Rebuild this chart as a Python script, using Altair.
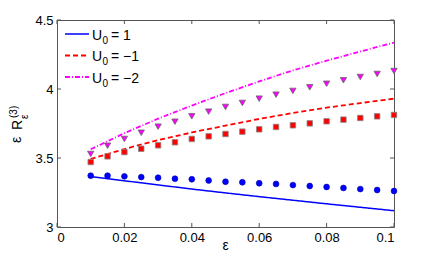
import altair as alt
import pandas as pd

# ---- data ----
eps_pts = [0.01, 0.015, 0.02, 0.025, 0.03, 0.035, 0.04, 0.045, 0.05, 0.055,
           0.06, 0.065, 0.07, 0.075, 0.08, 0.085, 0.09, 0.095, 0.1]
pts_u1 = [3.372, 3.372, 3.367, 3.362, 3.357, 3.350, 3.346, 3.337, 3.328, 3.324,
          3.317, 3.312, 3.304, 3.297, 3.290, 3.283, 3.275, 3.268, 3.261]
pts_um1 = [3.471, 3.512, 3.543, 3.567, 3.592, 3.614, 3.638, 3.657, 3.674, 3.691,
           3.708, 3.725, 3.737, 3.751, 3.766, 3.778, 3.790, 3.802, 3.812]
pts_um2 = [3.529, 3.589, 3.638, 3.683, 3.727, 3.763, 3.802, 3.836, 3.870, 3.899,
           3.930, 3.959, 3.986, 4.012, 4.038, 4.063, 4.087, 4.109, 4.130]

eps_line = [0.01, 0.02, 0.03, 0.04, 0.05, 0.06, 0.07, 0.08, 0.09, 0.1]
line_u1 = [3.365, 3.335, 3.305, 3.275, 3.247, 3.220, 3.194, 3.168, 3.143, 3.118]
line_um1 = [3.493, 3.565, 3.630, 3.685, 3.735, 3.783, 3.826, 3.865, 3.898, 3.930]
line_um2 = [3.563, 3.680, 3.785, 3.880, 3.970, 4.055, 4.135, 4.205, 4.272, 4.336]

x_ticks = [0, 0.02, 0.04, 0.06, 0.08, 0.1]
y_ticks = [3, 3.5, 4, 4.5]
legend_vals = ["1", "\u22121", "\u22122"]

# ---- styling ----
W, H = 337, 207
FONT = "Liberation Sans"
BLUE, RED, MAG = "#0000ff", "#ff0000", "#ff00ff"
colors = [BLUE, RED, MAG]
dashes = [[1, 0], [5, 3], [5, 2, 1, 2]]

xs = alt.Scale(domain=[0, 0.1], nice=False, zero=False)
ys = alt.Scale(domain=[3, 4.5], nice=False, zero=False)

X = alt.X("x:Q", scale=xs,
          axis=alt.Axis(values=x_ticks, format="~g", title=None, grid=False,
                        ticks=False, domain=False, labelPadding=4,
                        labelFontSize=13, labelFont=FONT, labelColor="black"))
Y = alt.Y("y:Q", scale=ys,
          axis=alt.Axis(values=y_ticks, format="~g", title=None, grid=False,
                        ticks=False, domain=False, labelPadding=4,
                        labelFontSize=13, labelFont=FONT, labelColor="black"))

layers = []

# model lines
for xv, yv, c, d, w in [(eps_line, line_u1, BLUE, dashes[0], 1.5),
                        (eps_line, line_um1, RED, dashes[1], 1.8),
                        (eps_line, line_um2, MAG, dashes[2], 1.8)]:
    df = pd.DataFrame({"x": xv, "y": yv})
    layers.append(alt.Chart(df).mark_line(color=c, strokeDash=d, strokeWidth=w)
                  .encode(x=X, y=Y))

# markers
df1 = pd.DataFrame({"x": eps_pts, "y": pts_u1})
layers.append(alt.Chart(df1).mark_point(shape="circle", filled=True, size=34,
                                        color=BLUE, opacity=1, stroke="#0000aa",
                                        strokeWidth=0.6)
              .encode(x=X, y=Y))
df2 = pd.DataFrame({"x": eps_pts, "y": pts_um1})
layers.append(alt.Chart(df2).mark_point(shape="square", filled=True, size=30,
                                        fill=RED, opacity=1, stroke="#888888",
                                        strokeWidth=0.8)
              .encode(x=X, y=Y))
df3 = pd.DataFrame({"x": eps_pts, "y": pts_um2})
layers.append(alt.Chart(df3).mark_point(shape="triangle-down", filled=True, size=40,
                                        fill=MAG, opacity=1, stroke="#666666",
                                        strokeWidth=0.8)
              .encode(x=X, y=Y))

# inside ticks on all four sides
TL = 4
tick_col = "#555555"
dfx = pd.DataFrame({"x": x_ticks})
dfy = pd.DataFrame({"y": y_ticks})
layers.append(alt.Chart(dfx).mark_rule(color=tick_col, strokeWidth=1)
              .encode(x=X, y=alt.value(H), y2=alt.value(H - TL)))
layers.append(alt.Chart(dfx).mark_rule(color=tick_col, strokeWidth=1)
              .encode(x=X, y=alt.value(0), y2=alt.value(TL)))
layers.append(alt.Chart(dfy).mark_rule(color=tick_col, strokeWidth=1)
              .encode(y=Y, x=alt.value(0), x2=alt.value(TL)))
layers.append(alt.Chart(dfy).mark_rule(color=tick_col, strokeWidth=1)
              .encode(y=Y, x=alt.value(W), x2=alt.value(W - TL)))

one = pd.DataFrame({"a": [0]})

# x-axis title
layers.append(alt.Chart(one).mark_text(align="center", baseline="alphabetic",
                                       fontSize=14, font=FONT, color="black")
              .encode(x=alt.value(W / 2), y=alt.value(H + 23),
                      text=alt.value("\u03b5")))

# legend (manual, to get the subscript)
row_y = [14, 35.5, 57]
for i, (lab, c, d) in enumerate(zip(legend_vals, colors, dashes)):
    ry = row_y[i]
    layers.append(alt.Chart(one).mark_rule(color=c, strokeDash=d,
                                           strokeWidth=1.5 if i == 0 else 1.8)
                  .encode(x=alt.value(8), x2=alt.value(32), y=alt.value(ry)))
    layers.append(alt.Chart(one).mark_text(align="left", baseline="alphabetic",
                                           fontSize=14, font=FONT, color="black")
                  .encode(x=alt.value(35), y=alt.value(ry + 5.5), text=alt.value("U")))
    layers.append(alt.Chart(one).mark_text(align="left", baseline="alphabetic",
                                           fontSize=10, font=FONT, color="black")
                  .encode(x=alt.value(45.5), y=alt.value(ry + 9.5), text=alt.value("0")))
    layers.append(alt.Chart(one).mark_text(align="left", baseline="alphabetic",
                                           fontSize=14, font=FONT, color="black")
                  .encode(x=alt.value(54), y=alt.value(ry + 5.5),
                          text=alt.value("= " + lab)))

# y-axis title: eps R_eps^(3), rotated
for txt, fs, bx, by in [("\u03b5", 14, -36, 123),
                        ("R", 14, -35.5, 110),
                        ("\u03b5", 10, -29, 99),
                        ("(3)", 10, -40, 98)]:
    layers.append(alt.Chart(one).mark_text(align="left", baseline="alphabetic",
                                           fontSize=fs, font=FONT, color="black",
                                           angle=270)
                  .encode(x=alt.value(bx), y=alt.value(by), text=alt.value(txt)))

chart = (alt.layer(*layers)
         .properties(width=W, height=H,
                     autosize=alt.AutoSizeParams(type="none"),
                     padding={"left": 49, "top": 12, "right": 34, "bottom": 27},
                     background="white")
         .configure_view(stroke="#555555", strokeWidth=1))

chart.save("out.html", embed_options={"renderer": "svg", "actions": False})
